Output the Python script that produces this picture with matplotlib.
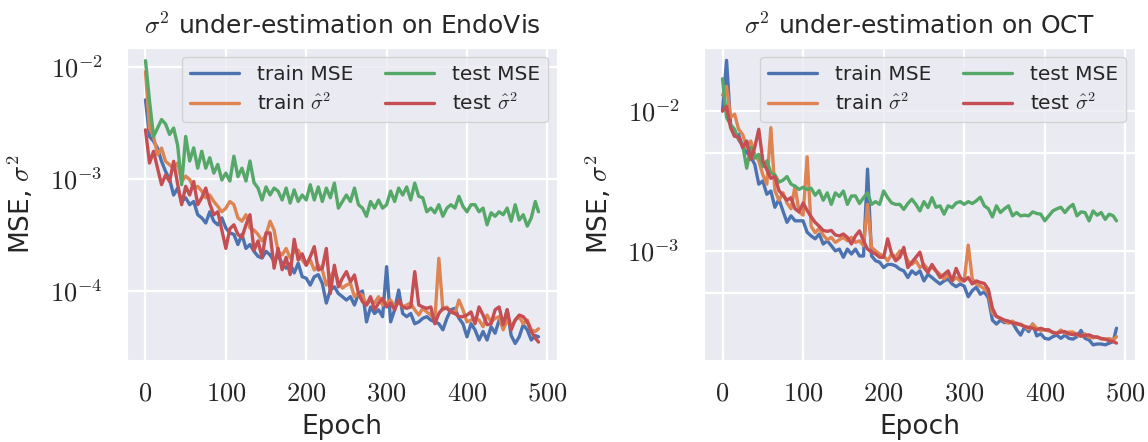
import numpy as np
import matplotlib
matplotlib.use('Agg')
import matplotlib.pyplot as plt
import seaborn as sns
from matplotlib.ticker import FixedLocator, FuncFormatter, NullLocator

sns.set_style('darkgrid')
plt.rcParams['font.family'] = ['DejaVu Sans']
plt.rcParams['mathtext.fontset'] = 'cm'

epochs = list(range(0, 490, 5)) + [489]

endo_train_mse = [
    5.1e-3, 2.4e-3, 2.17e-3, 1.89e-3, 1.44e-3, 1.17e-3, 9.9e-4, 7.2e-4, 8.3e-4, 6.3e-4,
    6.8e-4, 5.9e-4, 6.3e-4, 4.8e-4, 4.5e-4, 4.05e-4, 5.1e-4, 4.2e-4, 3.9e-4, 4.5e-4,
    3.65e-4, 3.3e-4, 3.2e-4, 2.6e-4, 3.2e-4, 2.4e-4, 2.6e-4, 2.26e-4, 2.04e-4, 1.97e-4,
    2.26e-4, 2.1e-4, 1.84e-4, 2.1e-4, 1.75e-4, 1.6e-4, 1.75e-4, 1.45e-4, 1.77e-4, 1.34e-4,
    1.3e-4, 1.13e-4, 1.34e-4, 1.4e-4, 1.17e-4, 7.8e-5, 1.02e-4, 1.09e-4, 9.5e-5, 8.9e-5,
    8.3e-5, 8.9e-5, 7.5e-5, 9.5e-5, 1.0e-4, 5.3e-5, 7.2e-5, 6.3e-5, 6.8e-5, 5.9e-5,
    1.65e-4, 5.3e-5, 6.8e-5, 1.02e-4, 6.3e-5, 5.9e-5, 6.3e-5, 5.1e-5, 5.3e-5, 5.7e-5,
    5.9e-5, 5.5e-5, 5.3e-5, 5.1e-5, 4.5e-5, 5.7e-5, 6.8e-5, 7.0e-5, 5.7e-5, 5.1e-5,
    3.9e-5, 5.1e-5, 4.5e-5, 3.65e-5, 4.35e-5, 3.65e-5, 4.8e-5, 4.2e-5, 5.5e-5, 4.8e-5,
    6.8e-5, 4.0e-5, 3.4e-5, 3.9e-5, 5.0e-5, 4.5e-5, 3.65e-5, 4.0e-5, 3.9e-5]
endo_train_var = [
    9.1e-3, 2.85e-3, 2.4e-3, 1.65e-3, 1.89e-3, 1.44e-3, 1.34e-3, 1.25e-3, 1.39e-3, 9.5e-4,
    1.06e-3, 9.9e-4, 8.3e-4, 8.6e-4, 7.8e-4, 6.8e-4, 7.2e-4, 6.3e-4, 5.7e-4, 5.1e-4,
    5.5e-4, 6.3e-4, 5.9e-4, 4.5e-4, 4.2e-4, 4.8e-4, 3.65e-4, 3.5e-4, 3.2e-4, 2.8e-4,
    3.2e-4, 4.2e-4, 3.5e-4, 2.26e-4, 2.1e-4, 2.4e-4, 1.97e-4, 2.26e-4, 2.32e-4, 1.89e-4,
    1.7e-4, 1.89e-4, 1.54e-4, 1.7e-4, 1.54e-4, 1.13e-4, 1.34e-4, 1.54e-4, 1.21e-4, 1.06e-4,
    1.13e-4, 1.17e-4, 8.9e-5, 9.5e-5, 9.2e-5, 7.5e-5, 8.3e-5, 7.8e-5, 8.9e-5, 7.5e-5,
    7.8e-5, 8.3e-5, 7.2e-5, 8.0e-5, 7.2e-5, 7.5e-5, 7.8e-5, 6.8e-5, 6.1e-5, 7.0e-5,
    6.5e-5, 6.1e-5, 5.5e-5, 1.96e-4, 6.8e-5, 7.2e-5, 6.5e-5, 6.3e-5, 8.3e-5, 6.8e-5,
    5.3e-5, 5.5e-5, 5.7e-5, 5.5e-5, 4.8e-5, 6.1e-5, 5.3e-5, 5.7e-5, 5.9e-5, 4.5e-5,
    5.5e-5, 4.8e-5, 5.5e-5, 5.9e-5, 5.1e-5, 5.5e-5, 4.5e-5, 4.35e-5, 4.6e-5]
endo_test_mse = [
    1.14e-2, 5.0e-3, 2.4e-3, 2.85e-3, 3.4e-3, 3.1e-3, 2.5e-3, 2.85e-3, 2.0e-3, 8.9e-4,
    2.4e-3, 1.45e-3, 1.9e-3, 1.25e-3, 1.77e-3, 1.25e-3, 1.55e-3, 1.13e-3, 1.35e-3, 9.8e-4,
    1.13e-3, 9.6e-4, 1.6e-3, 1.05e-3, 1.25e-3, 9.6e-4, 1.45e-3, 9.3e-4, 8.3e-4, 6.5e-4,
    8.5e-4, 7.2e-4, 8.3e-4, 7.8e-4, 6.5e-4, 8.3e-4, 6.1e-4, 8.0e-4, 6.3e-4, 7.2e-4,
    6.5e-4, 8.9e-4, 6.5e-4, 8.5e-4, 6.3e-4, 8.3e-4, 6.8e-4, 9.2e-4, 5.5e-4, 6.3e-4,
    7.2e-4, 6.3e-4, 8.3e-4, 5.9e-4, 5.5e-4, 4.65e-4, 6.3e-4, 5.5e-4, 6.5e-4, 5.5e-4,
    5.9e-4, 7.8e-4, 6.3e-4, 8.3e-4, 7.2e-4, 8.5e-4, 6.5e-4, 9.2e-4, 7.0e-4, 6.8e-4,
    5.1e-4, 5.5e-4, 5.0e-4, 5.9e-4, 4.65e-4, 5.5e-4, 5.9e-4, 5.5e-4, 7.0e-4, 5.7e-4,
    5.1e-4, 5.9e-4, 5.9e-4, 5.1e-4, 5.5e-4, 3.9e-4, 5.0e-4, 4.65e-4, 5.1e-4, 4.8e-4,
    5.5e-4, 4.2e-4, 5.9e-4, 4.3e-4, 4.8e-4, 3.8e-4, 4.5e-4, 6.3e-4, 5.1e-4]
endo_test_var = [
    2.75e-3, 1.39e-3, 1.77e-3, 1.25e-3, 8.9e-4, 1.09e-3, 9.5e-4, 1.44e-3, 9.0e-4, 5.9e-4,
    8.6e-4, 7.2e-4, 9.5e-4, 5.9e-4, 6.8e-4, 8.3e-4, 6.0e-4, 4.8e-4, 5.1e-4, 3.5e-4,
    2.4e-4, 3.6e-4, 3.9e-4, 3.2e-4, 3.0e-4, 3.9e-4, 4.8e-4, 2.3e-4, 2.8e-4, 2.0e-4,
    3.3e-4, 3.3e-4, 1.6e-4, 2.4e-4, 1.55e-4, 2.0e-4, 1.4e-4, 2.9e-4, 1.89e-4, 2.15e-4,
    1.7e-4, 2.02e-4, 2.49e-4, 1.54e-4, 1.6e-4, 2.4e-4, 9.5e-5, 1.7e-4, 1.09e-4, 1.3e-4,
    1.49e-4, 1.21e-4, 1.39e-4, 9.5e-5, 8.0e-5, 7.5e-5, 8.9e-5, 6.8e-5, 7.8e-5, 8.6e-5,
    7.2e-5, 7.8e-5, 6.8e-5, 8.3e-5, 7.2e-5, 7.0e-5, 7.2e-5, 1.49e-4, 7.5e-5, 7.2e-5,
    7.0e-5, 7.2e-5, 5.1e-5, 6.3e-5, 7.0e-5, 7.0e-5, 6.5e-5, 6.3e-5, 5.9e-5, 5.9e-5,
    6.1e-5, 6.5e-5, 5.1e-5, 7.2e-5, 6.1e-5, 5.0e-5, 5.1e-5, 6.8e-5, 7.2e-5, 5.0e-5,
    6.8e-5, 4.5e-5, 5.5e-5, 6.1e-5, 5.9e-5, 5.3e-5, 4.35e-5, 3.8e-5, 3.5e-5]

oct_train_mse = [
    1.0e-2, 2.3e-2, 8.0e-3, 6.6e-3, 6.8e-3, 5.5e-3, 5.05e-3, 4.7e-3, 4.15e-3, 3.0e-3,
    3.16e-3, 2.54e-3, 2.68e-3, 2.05e-3, 2.34e-3, 1.93e-3, 1.6e-3, 1.78e-3, 1.64e-3, 1.64e-3,
    1.64e-3, 1.36e-3, 1.28e-3, 1.22e-3, 1.32e-3, 1.12e-3, 1.18e-3, 1.09e-3, 1.0e-3, 1.03e-3,
    9.0e-4, 1.03e-3, 9.5e-4, 1.03e-3, 9.2e-4, 9.2e-4, 3.84e-3, 9.2e-4, 8.5e-4, 8.3e-4,
    7.6e-4, 8.0e-4, 8.0e-4, 7.8e-4, 7.4e-4, 7.2e-4, 6.45e-4, 7.2e-4, 6.8e-4, 7.2e-4,
    6.1e-4, 6.8e-4, 6.45e-4, 6.1e-4, 5.8e-4, 6.1e-4, 6.3e-4, 5.8e-4, 5.55e-4, 5.8e-4,
    5.6e-4, 4.7e-4, 5.2e-4, 5.5e-4, 4.9e-4, 5.1e-4, 4.6e-4, 3.2e-4, 3.0e-4, 3.2e-4,
    3.07e-4, 3.1e-4, 3.07e-4, 2.73e-4, 2.5e-4, 2.85e-4, 2.65e-4, 3.0e-4, 2.47e-4, 2.55e-4,
    2.37e-4, 2.34e-4, 2.44e-4, 2.5e-4, 2.37e-4, 2.5e-4, 2.37e-4, 2.34e-4, 2.44e-4, 2.7e-4,
    2.37e-4, 2.31e-4, 2.13e-4, 2.16e-4, 2.16e-4, 2.13e-4, 2.19e-4, 2.25e-4, 2.8e-4]
oct_train_var = [
    1.3e-2, 1.5e-2, 9.0e-3, 9.5e-3, 7.4e-3, 6.8e-3, 5.5e-3, 6.1e-3, 4.9e-3, 4.4e-3,
    3.5e-3, 3.0e-3, 7.6e-3, 2.7e-3, 2.3e-3, 2.6e-3, 2.2e-3, 2.0e-3, 2.9e-3, 1.9e-3,
    1.8e-3, 4.7e-3, 1.5e-3, 1.35e-3, 1.45e-3, 1.3e-3, 1.2e-3, 1.25e-3, 1.15e-3, 1.2e-3,
    1.25e-3, 1.18e-3, 1.25e-3, 1.15e-3, 1.18e-3, 1.09e-3, 2.15e-3, 1.06e-3, 1.0e-3, 9.5e-4,
    9.2e-4, 8.5e-4, 9.5e-4, 9.0e-4, 1.0e-3, 9.8e-4, 8.5e-4, 8.0e-4, 8.5e-4, 7.6e-4,
    8.0e-4, 7.4e-4, 7.6e-4, 7.2e-4, 6.8e-4, 6.3e-4, 6.8e-4, 6.1e-4, 6.45e-4, 6.1e-4,
    6.1e-4, 1.1e-3, 6.3e-4, 5.8e-4, 5.6e-4, 5.35e-4, 5.0e-4, 3.6e-4, 3.4e-4, 3.3e-4,
    3.15e-4, 3.04e-4, 3.15e-4, 2.97e-4, 3.0e-4, 2.88e-4, 2.76e-4, 3.0e-4, 2.8e-4, 2.7e-4,
    2.73e-4, 2.68e-4, 2.63e-4, 2.58e-4, 2.72e-4, 2.58e-4, 2.63e-4, 2.63e-4, 2.51e-4, 2.45e-4,
    2.55e-4, 2.41e-4, 2.39e-4, 2.44e-4, 2.34e-4, 2.34e-4, 2.36e-4, 2.31e-4, 2.44e-4]
oct_test_mse = [
    1.7e-2, 9.0e-3, 8.0e-3, 7.4e-3, 6.2e-3, 5.7e-3, 3.9e-3, 5.5e-3, 4.6e-3, 4.9e-3,
    4.0e-3, 4.4e-3, 3.6e-3, 3.5e-3, 3.1e-3, 3.2e-3, 3.4e-3, 3.0e-3, 2.9e-3, 2.75e-3,
    2.85e-3, 2.75e-3, 2.8e-3, 2.5e-3, 2.7e-3, 2.3e-3, 2.6e-3, 2.15e-3, 2.6e-3, 2.45e-3,
    2.68e-3, 2.15e-3, 2.47e-3, 2.47e-3, 2.18e-3, 2.4e-3, 2.6e-3, 2.15e-3, 2.25e-3, 2.15e-3,
    2.68e-3, 2.4e-3, 2.2e-3, 2.15e-3, 2.15e-3, 1.98e-3, 2.18e-3, 2.34e-3, 2.15e-3, 1.93e-3,
    2.25e-3, 2.04e-3, 2.4e-3, 2.05e-3, 2.1e-3, 1.83e-3, 2.1e-3, 2.04e-3, 2.2e-3, 2.25e-3,
    2.15e-3, 2.25e-3, 2.18e-3, 2.28e-3, 2.42e-3, 2.1e-3, 2.0e-3, 1.75e-3, 2.1e-3, 1.88e-3,
    2.0e-3, 2.1e-3, 1.78e-3, 1.88e-3, 1.78e-3, 1.8e-3, 1.78e-3, 1.9e-3, 1.85e-3, 1.83e-3,
    1.64e-3, 1.78e-3, 1.93e-3, 2.0e-3, 2.05e-3, 1.88e-3, 2.04e-3, 2.15e-3, 1.78e-3, 1.9e-3,
    1.88e-3, 1.64e-3, 1.93e-3, 1.8e-3, 1.88e-3, 1.68e-3, 1.83e-3, 1.78e-3, 1.64e-3]
oct_test_var = [
    1.0e-2, 1.08e-2, 7.6e-3, 6.6e-3, 6.5e-3, 5.5e-3, 6.1e-3, 4.5e-3, 5.5e-3, 7.4e-3,
    4.4e-3, 3.8e-3, 3.3e-3, 3.4e-3, 2.7e-3, 2.5e-3, 2.3e-3, 2.4e-3, 2.0e-3, 1.9e-3,
    2.2e-3, 1.95e-3, 1.75e-3, 1.6e-3, 1.5e-3, 1.4e-3, 1.38e-3, 1.4e-3, 1.3e-3, 1.28e-3,
    1.32e-3, 1.25e-3, 1.12e-3, 1.28e-3, 1.39e-3, 1.18e-3, 1.03e-3, 9.8e-4, 9.5e-4, 9.0e-4,
    9.0e-4, 1.22e-3, 9.5e-4, 8.5e-4, 9.0e-4, 1.06e-3, 7.6e-4, 8.3e-4, 9.0e-4, 9.8e-4,
    7.6e-4, 7.0e-4, 8.0e-4, 7.2e-4, 6.45e-4, 6.8e-4, 7.2e-4, 6.1e-4, 7.5e-4, 6.45e-4,
    6.1e-4, 6.45e-4, 5.8e-4, 6.1e-4, 5.95e-4, 5.85e-4, 5.3e-4, 3.9e-4, 3.4e-4, 3.3e-4,
    3.2e-4, 3.15e-4, 3.04e-4, 3.04e-4, 2.96e-4, 2.88e-4, 2.84e-4, 2.8e-4, 2.73e-4, 2.8e-4,
    2.73e-4, 2.73e-4, 2.6e-4, 2.58e-4, 2.63e-4, 2.65e-4, 2.55e-4, 2.52e-4, 2.55e-4, 2.46e-4,
    2.49e-4, 2.51e-4, 2.44e-4, 2.41e-4, 2.37e-4, 2.34e-4, 2.28e-4, 2.25e-4, 2.19e-4]

series_labels = ['train MSE', r'train $\hat{\sigma}^2$', 'test MSE', r'test $\hat{\sigma}^2$']
colors = ['#4C72B0', '#DD8452', '#55A868', '#C44E52']
x_ticks = [0, 100, 200, 300, 400, 500]

panels = [
    dict(title=r'$\sigma^2$ under-estimation on EndoVis',
         data=[endo_train_mse, endo_train_var, endo_test_mse, endo_test_var],
         ylim=(2.42e-5, 1.48e-2), major=[1e-4, 1e-3, 1e-2], minor=[],
         rect=[127, 557]),
    dict(title=r'$\sigma^2$ under-estimation on OCT',
         data=[oct_train_mse, oct_train_var, oct_test_mse, oct_test_var],
         ylim=(1.66e-4, 2.82e-2), major=[1e-3, 1e-2], minor=[5e-4, 5e-3],
         rect=[704, 1135]),
]

W, H = 1148, 442
fig = plt.figure(figsize=(W / 100, H / 100), dpi=100)
top, bottom = 48, 360
for p in panels:
    x0, x1 = p['rect']
    ax = fig.add_axes([x0 / W, 1 - bottom / H, (x1 - x0) / W, (bottom - top) / H])
    for vals, lab, c in zip(p['data'], series_labels, colors):
        ax.plot(epochs, vals, color=c, lw=2.4, label=lab)
    ax.set_yscale('log')
    ax.set_xlim(-23, 512)
    ax.set_ylim(*p['ylim'])
    ax.yaxis.set_major_locator(FixedLocator(p['major']))
    ax.yaxis.set_major_formatter(FuncFormatter(lambda v, pos: r'$10^{%d}$' % int(round(np.log10(v)))))
    if p['minor']:
        ax.yaxis.set_minor_locator(FixedLocator(p['minor']))
        ax.grid(True, which='minor', axis='y', color='white', lw=1.6)
    else:
        ax.yaxis.set_minor_locator(NullLocator())
    ax.yaxis.set_minor_formatter(FuncFormatter(lambda v, pos: ''))
    ax.xaxis.set_major_locator(FixedLocator(x_ticks))
    ax.xaxis.set_major_formatter(FuncFormatter(lambda v, pos: r'$%d$' % int(v)))
    ax.tick_params(axis='x', which='major', labelsize=19, pad=11)
    ax.tick_params(axis='y', which='major', labelsize=19, pad=14)
    ax.tick_params(axis='both', which='minor', length=0)
    ax.grid(True, which='major', color='white', lw=1.6)
    ax.set_title(p['title'], fontsize=18, pad=10)
    ax.set_xlabel('Epoch', fontsize=19, labelpad=6)
    ax.set_ylabel(r'MSE, $\sigma^2$', fontsize=19, labelpad=10)
    ax.legend(loc='upper right', ncol=2, fontsize=14.5, handlelength=2.4,
              columnspacing=1.6, handletextpad=0.9, labelspacing=0.4,
              borderaxespad=0.45, framealpha=0.8)

fig.savefig('out.png', dpi=100)
